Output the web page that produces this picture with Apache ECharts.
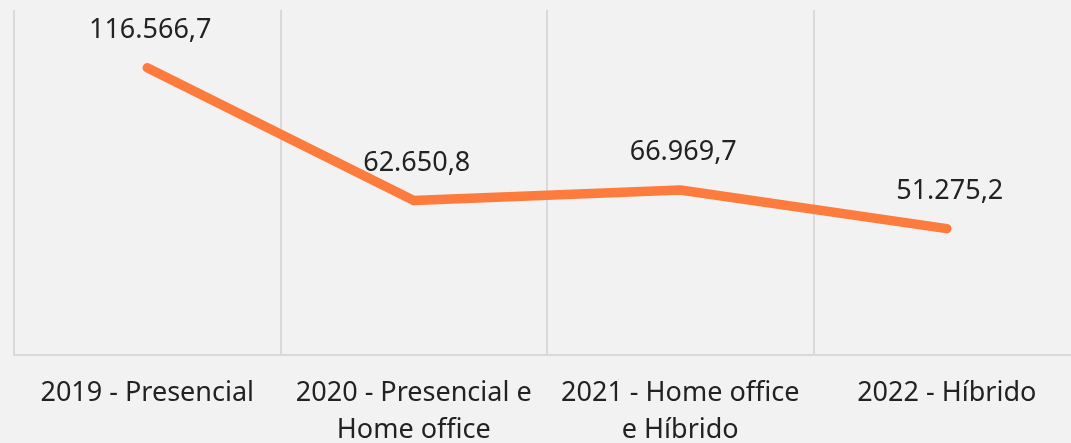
<!DOCTYPE html>
<html>
<head>
<meta charset="utf-8">
<script src="https://cdn.jsdelivr.net/npm/echarts@6/dist/echarts.min.js"></script>
<style>
  html, body { margin: 0; padding: 0; background: #f2f2f2; overflow: hidden; }
  #chart { width: 1082px; height: 443px; }
</style>
</head>
<body>
<div id="chart"></div>
<script>
// dados
var categorias = ['2019 - Presencial', '2020 - Presencial e\nHome office', '2021 - Home office\ne Híbrido', '2022 - Híbrido'];
var valores = [116566.7, 62650.8, 66969.7, 51275.2];

// formato pt-BR: 116.566,7
function fmt(v) {
  var parts = v.toFixed(1).split('.');
  return parts[0].replace(/\B(?=(\d{3})+(?!\d))/g, '.') + ',' + parts[1];
}

var chart = echarts.init(document.getElementById('chart'));
chart.setOption({
  backgroundColor: '#f2f2f2',
  animation: false,
  textStyle: { fontFamily: 'Noto Sans' },
  grid: { left: 14, right: 2, top: 10, bottom: 88, outerBoundsMode: 'none', containLabel: false },
  xAxis: {
    type: 'category',
    data: categorias,
    boundaryGap: true,
    axisLine: { lineStyle: { color: '#d9d9d9', width: 2 } },
    axisTick: { show: false },
    axisLabel: { color: '#222', fontSize: 27, margin: 20, lineHeight: 37, interval: 0 },
    splitLine: { show: true, lineStyle: { color: '#d9d9d9', width: 2 } }
  },
  yAxis: {
    type: 'value',
    min: 0,
    max: 140000,
    show: false,
    splitLine: { show: false }
  },
  series: [{
    type: 'line',
    data: valores,
    symbol: 'circle',
    symbolSize: 0,
    itemStyle: { color: 'rgba(0,0,0,0)' },
    lineStyle: { color: '#fd7b3d', width: 9.5, cap: 'round', join: 'round' },
    label: {
      show: true,
      position: 'top',
      distance: 24,
      offset: [3, 0],
      color: '#222',
      fontSize: 27,
      formatter: function (p) { return fmt(p.value); }
    }
  }]
});
</script>
</body>
</html>
